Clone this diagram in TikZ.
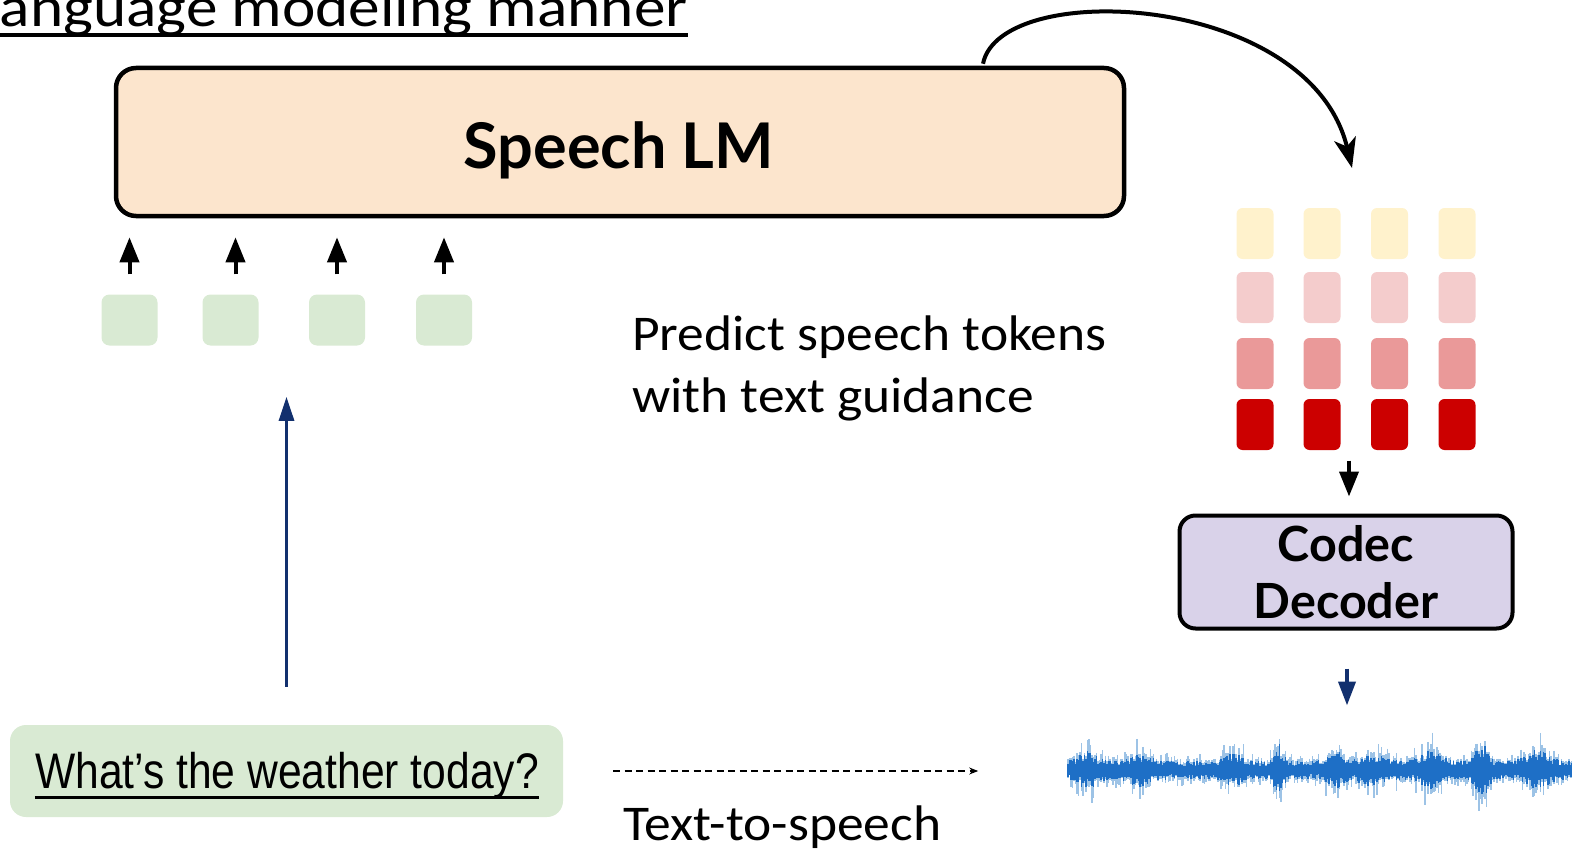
\documentclass[tikz,border=0pt]{standalone}
\usepackage{fontspec}
\usepackage{graphicx}
\setmainfont{Carlito}
\newfontfamily\latofont{Lato}
\newfontfamily\arialfont{Liberation Sans}
\usetikzlibrary{arrows.meta}

\definecolor{lmfill}{HTML}{FCE5CD}
\definecolor{tokgreen}{HTML}{D9EAD3}
\definecolor{codecfill}{HTML}{D9D2E9}
\definecolor{navy}{HTML}{12306E}
\definecolor{lv1}{HTML}{FFF2CC}
\definecolor{lv2}{HTML}{F4CCCC}
\definecolor{lv3}{HTML}{EA9999}
\definecolor{lv4}{HTML}{CC0000}
\definecolor{wavedark}{HTML}{1E6FC6}
\definecolor{wavelight}{HTML}{9DC3E6}

% slightly widened body text
\newcommand{\hstretch}[1]{\scalebox{1.07}[1]{#1}}

\tikzset{
  bigbox/.style={draw=black, line width=4.5pt, rounded corners=20pt, inner sep=0pt},
  intok/.style={fill=tokgreen, rounded corners=8pt, minimum width=56pt, minimum height=51pt, inner sep=0pt},
  codetok/.style={rounded corners=6pt, minimum width=37pt, minimum height=51pt, inner sep=0pt},
  blockarrow/.style={line width=4pt, -{Triangle[length=25pt,width=19pt]}},
  navyarrow/.style={navy, line width=3pt, -{Triangle[length=24pt,width=15pt]}},
  label/.style={inner sep=0pt, font=\fontsize{50}{62}\selectfont},
}

\begin{document}
\begin{tikzpicture}[x=1pt,y=-1pt]
\useasboundingbox (0,0) rectangle (1572,851);

% heading, partly above the page edge
\node[inner sep=0pt, anchor=base east, font=\fontsize{57}{62}\selectfont] (ttl) at (688,27)
  {\scalebox{1.11}[1]{language modeling manner}};
\draw[line width=3.5pt] ([yshift=-8pt]ttl.base west) -- ([yshift=-8pt]ttl.base east);

% main model block
\node[bigbox, fill=lmfill, minimum width=1008pt, minimum height=148pt] (lm) at (620,142) {};
\node[inner sep=0pt, anchor=base, font=\latofont\bfseries\fontsize{63}{70}\selectfont] (lmtext) at (619,168) {Speech LM};

% input token slots with arrows into the model
\foreach \i/\cx in {1/129.5, 2/230.5, 3/337, 4/444} {
  \node[intok] (t\i) at (\cx,320) {};
}
\draw[blockarrow] ([yshift=20pt]t1.north) -- ([yshift=57pt]t1.north);
\draw[blockarrow] ([xshift=5pt,yshift=20pt]t2.north) -- ([xshift=5pt,yshift=57pt]t2.north);
\draw[blockarrow] ([yshift=20pt]t3.north) -- ([yshift=57pt]t3.north);
\draw[blockarrow] ([yshift=20pt]t4.north) -- ([yshift=57pt]t4.north);

% text prompt
\node[fill=tokgreen, rounded corners=16pt, minimum width=553pt, minimum height=92pt, inner sep=0pt] (q) at (286.5,771) {};
\node[inner sep=0pt, anchor=base] (wt) at (287,788)
  {\arialfont\fontsize{50}{60}\selectfont\scalebox{0.852}[1]{What’s the weather today?}};
\draw[line width=3pt] ([yshift=-9pt]wt.base west) -- ([yshift=-9pt]wt.base east);
\draw[navyarrow] ([yshift=38pt]q.north) -- ([yshift=328pt]q.north);

% caption of the prediction step (base = last line)
\node[label, anchor=base west, align=left] (pred) at (632,412)
  {\hstretch{Predict speech tokens}\\\hstretch{with text guidance}};

% text-to-speech shortcut
\draw[line width=1.4pt, dash pattern=on 7pt off 4.5pt, -{Stealth[length=9pt,width=7pt]}]
  ([xshift=50pt]q.east) -- ([xshift=415pt]q.east);
\node[label, anchor=base west] (tts) at (623,840) {\hstretch{Text-to-speech}};

% codec token grid
\foreach \c/\cx in {1/1255, 2/1322, 3/1389.5, 4/1457} {
  \node[codetok, fill=lv1] (g1\c) at (\cx,233.5) {};
  \node[codetok, fill=lv2] (g2\c) at (\cx,297.5) {};
  \node[codetok, fill=lv3] (g3\c) at (\cx,363.5) {};
  \node[codetok, fill=lv4] (g4\c) at (\cx,424.5) {};
}

% output of the model into the grid
\coordinate (gin) at (1352,168);
\draw[line width=4pt, -{Stealth[length=30pt,width=22pt,inset=8pt]}]
  ([xshift=363pt,yshift=2pt]lm.north) .. controls (1000,-22) and (1310,-8) .. (gin);

% codec decoder
\node[bigbox, line width=4pt, rounded corners=16pt, fill=codecfill, minimum width=333pt, minimum height=113pt,
      align=center, font=\latofont\bfseries\fontsize{48.5}{57}\selectfont] (dec) at (1346,572) {Codec\\Decoder};
\draw[blockarrow] ([xshift=3pt,yshift=53pt]dec.north) -- ([xshift=3pt,yshift=17pt]dec.north);
\draw[navy, line width=4pt, -{Triangle[length=24pt,width=17pt]}]
  ([xshift=1pt,yshift=-38pt]dec.south) -- ([xshift=1pt,yshift=-75pt]dec.south);

% waveform
\pgfmathsetseed{12}
\foreach \x in {1068,1069.5,...,1572} {
  \pgfmathsetmacro\env{1 + 1.1*exp(-((\x-1088)/12)^2) + 0.8*exp(-((\x-1140)/15)^2)
     + 0.9*exp(-((\x-1235)/12)^2) + 1.8*exp(-((\x-1279)/6)^2) + 1.0*exp(-((\x-1336)/10)^2)
     + 0.8*exp(-((\x-1372)/15)^2) + 1.1*exp(-((\x-1430)/14)^2) + 2.0*exp(-((\x-1482)/8)^2)
     + 1.2*exp(-((\x-1537)/15)^2)}
  \pgfmathsetmacro\up{7.5*\env*(0.55+0.7*rnd)}
  \pgfmathsetmacro\dn{7.5*\env*(0.55+0.7*rnd)}
  \pgfmathsetmacro\lup{\up*(1.15+1.2*rnd*rnd)}
  \pgfmathsetmacro\ldn{\dn*(1.15+1.2*rnd*rnd)}
  \draw[wavelight, line width=1.5pt] (\x,770-\lup) -- (\x,770+\ldn);
  \draw[wavedark, line width=1.5pt] (\x,770-\up) -- (\x,770+\dn);
}
\end{tikzpicture}
\end{document}
